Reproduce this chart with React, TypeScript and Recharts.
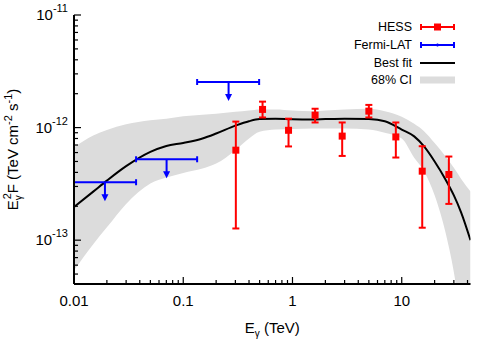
import {
  Area,
  ComposedChart,
  ErrorBar,
  Legend,
  Line,
  Scatter,
  XAxis,
  YAxis,
} from 'recharts';

const FONT = '"Liberation Sans", Arial, Helvetica, sans-serif';

// model curve + 68% band, sampled on a common energy grid (TeV)
const energy = [0.01, 0.015, 0.02, 0.03, 0.05, 0.07, 0.1, 0.15, 0.2, 0.3, 0.4, 0.5, 0.7, 1, 1.5, 2, 3, 5, 7, 10, 13, 16, 20, 25, 30, 35, 42.6];
const fitFlux = [1.97e-13, 2.7e-13, 3.38e-13, 4.54e-13, 6.08e-13, 6.87e-13, 7.3e-13, 8.0e-13, 8.85e-13, 1.04e-12, 1.14e-12, 1.19e-12, 1.2e-12, 1.185e-12, 1.18e-12, 1.19e-12, 1.2e-12, 1.19e-12, 1.14e-12, 9.6e-13, 8.35e-13, 6.8e-13, 5.0e-13, 3.5e-13, 2.5e-13, 1.76e-13, 1.0e-13];
const bandLow = [5.4e-14, 9.2e-14, 1.3e-13, 2.1e-13, 3.18e-13, 3.6e-13, 3.96e-13, 4.33e-13, 4.79e-13, 6.3e-13, 8.0e-13, 9.2e-13, 9.6e-13, 9.7e-13, 9.8e-13, 9.8e-13, 9.8e-13, 9.6e-13, 9.0e-13, 8.0e-13, 5.4e-13, 4.1e-13, 2.5e-13, 1.2e-13, 5.2e-14, 2e-14, 1e-14];
const bandHigh = [6.7e-13, 8.5e-13, 9.5e-13, 1.07e-12, 1.16e-12, 1.2e-12, 1.26e-12, 1.3e-12, 1.33e-12, 1.38e-12, 1.42e-12, 1.45e-12, 1.45e-12, 1.42e-12, 1.4e-12, 1.42e-12, 1.45e-12, 1.47e-12, 1.4e-12, 1.25e-12, 1.08e-12, 9.3e-13, 7.3e-13, 5.6e-13, 4.4e-13, 3.5e-13, 2.7e-13];

// HESS points
const hessE = [0.303, 0.532, 0.92, 1.61, 2.85, 5.0, 8.83, 15.4, 27];
const hessF = [6.3e-13, 1.45e-12, 9.46e-13, 1.29e-12, 8.4e-13, 1.4e-12, 8.26e-13, 4.1e-13, 3.83e-13];
const hessLo = [1.27e-13, 1.23e-12, 6.8e-13, 1.11e-12, 5.6e-13, 1.23e-12, 5.42e-13, 1.29e-13, 2.1e-13];
const hessHi = [1.13e-12, 1.7e-12, 1.2e-12, 1.47e-12, 1.11e-12, 1.59e-12, 1.11e-12, 6.83e-13, 5.53e-13];

// Fermi-LAT upper limits
const fermiE = [0.0192, 0.0704, 0.26];
const fermiEmin = [0.01, 0.037, 0.134];
const fermiEmax = [0.037, 0.134, 0.495];
const fermiUL = [3.27e-13, 5.23e-13, 2.54e-12];

const xTicks = [
  0.01, 0.02, 0.03, 0.04, 0.05, 0.06, 0.07, 0.08, 0.09,
  0.1, 0.2, 0.3, 0.4, 0.5, 0.6, 0.7, 0.8, 0.9,
  1, 2, 3, 4, 5, 6, 7, 8, 9,
  10, 20, 30, 40,
];
const yTicks = [
  5e-14, 6e-14, 7e-14, 8e-14, 9e-14,
  1e-13, 2e-13, 3e-13, 4e-13, 5e-13, 6e-13, 7e-13, 8e-13, 9e-13,
  1e-12, 2e-12, 3e-12, 4e-12, 5e-12, 6e-12, 7e-12, 8e-12, 9e-12,
  1e-11,
];

const curveData = energy.map((e, i) => ({ e, fit: fitFlux[i], band: [bandLow[i], bandHigh[i]] }));
const hessData = hessE.map((e, i) => ({ e, f: hessF[i], err: [hessF[i] - hessLo[i], hessHi[i] - hessF[i]] }));
const fermiData = fermiE.map((e, i) => ({ e, f: fermiUL[i], xerr: [e - fermiEmin[i], fermiEmax[i] - e] }));

const RED = '#ff0000';
const BLUE = '#0000ff';
const GREY = '#dcdcdc';

const isMajor = (v: number) => Math.abs(Math.log10(v) - Math.round(Math.log10(v))) < 1e-6;
const MAJOR = 7;
const MINOR = 4;

function BottomTick({ x, y, payload }: any) {
  const major = isMajor(payload.value);
  return (
    <g>
      <line x1={x} x2={x} y1={y} y2={y - (major ? MAJOR : MINOR)} stroke="#000" strokeWidth={1.2} />
      {major && (
        <text x={x} y={y + 22} textAnchor="middle" fontSize={15} fontFamily={FONT} fill="#000">
          {String(payload.value)}
        </text>
      )}
    </g>
  );
}

function TopTick({ x, y, payload }: any) {
  const major = isMajor(payload.value);
  return <line x1={x} x2={x} y1={y} y2={y + (major ? MAJOR : MINOR)} stroke="#000" strokeWidth={1.2} />;
}

function LeftTick({ x, y, payload }: any) {
  const major = isMajor(payload.value);
  const exp = Math.round(Math.log10(payload.value));
  return (
    <g>
      <line x1={x} x2={x + (major ? MAJOR : MINOR)} y1={y} y2={y} stroke="#000" strokeWidth={1.2} />
      {major && (
        <text x={x - 6} y={y + 5} textAnchor="end" fontSize={15} fontFamily={FONT} fill="#000">
          10
          <tspan dy={-8} fontSize={11}>{exp}</tspan>
        </text>
      )}
    </g>
  );
}

function RightTick({ x, y, payload }: any) {
  const major = isMajor(payload.value);
  return <line x1={x} x2={x - (major ? MAJOR : MINOR)} y1={y} y2={y} stroke="#000" strokeWidth={1.2} />;
}

function XTitle({ viewBox }: any) {
  const cx = viewBox ? viewBox.x + viewBox.width / 2 : 272;
  const y = viewBox ? viewBox.y + 49 : 333;
  return (
    <text x={cx} y={y} textAnchor="middle" fontSize={15} fontFamily={FONT} fill="#000">
      E
      <tspan dy={4} fontSize={10}>γ</tspan>
      <tspan dy={-4}>{'\u00a0(TeV)'}</tspan>
    </text>
  );
}

function YTitle({ viewBox }: any) {
  const cy = viewBox ? viewBox.y + viewBox.height / 2 : 150;
  const cx = 18;
  return (
    <text
      x={cx}
      y={cy}
      transform={`rotate(-90, ${cx}, ${cy})`}
      textAnchor="middle"
      fontSize={15}
      fontFamily={FONT}
      fill="#000"
    >
      E
      <tspan dy={4} fontSize={10}>γ</tspan>
      <tspan dx={-4} dy={-11} fontSize={11}>2</tspan>
      <tspan dy={7}>{'F (TeV cm'}</tspan>
      <tspan dy={-6} fontSize={11}>-2</tspan>
      <tspan dy={6}>{'\u00a0s'}</tspan>
      <tspan dy={-6} fontSize={11}>-1</tspan>
      <tspan dy={6}>)</tspan>
    </text>
  );
}

function UpperLimit({ cx, cy }: any) {
  if (cx == null || cy == null) return null;
  return (
    <g>
      <line x1={cx} x2={cx} y1={cy} y2={cy + 13} stroke={BLUE} strokeWidth={2} />
      <polygon points={`${cx - 3.5},${cy + 12} ${cx + 3.5},${cy + 12} ${cx},${cy + 19}`} fill={BLUE} />
    </g>
  );
}

function HessPoint({ cx, cy }: any) {
  if (cx == null || cy == null) return null;
  return <rect x={cx - 3.5} y={cy - 3.5} width={7} height={7} fill={RED} />;
}

const legendRows = ['HESS', 'Fermi-LAT', 'Best fit', '68% CI'];

function LegendSymbol({ name }: { name: string }) {
  if (name === 'HESS' || name === 'Fermi-LAT') {
    const c = name === 'HESS' ? RED : BLUE;
    return (
      <svg width={35} height={12}>
        <line x1={1} x2={34} y1={6} y2={6} stroke={c} strokeWidth={2} />
        <line x1={1} x2={1} y1={3} y2={9} stroke={c} strokeWidth={2} />
        <line x1={34} x2={34} y1={3} y2={9} stroke={c} strokeWidth={2} />
        {name === 'HESS' ? (
          <rect x={14} y={2.5} width={7} height={7} fill={c} />
        ) : (
          <line x1={17.5} x2={17.5} y1={4.5} y2={7.5} stroke={c} strokeWidth={1.5} />
        )}
      </svg>
    );
  }
  if (name === 'Best fit') {
    return (
      <svg width={35} height={12}>
        <line x1={0} x2={35} y1={6} y2={6} stroke="#000" strokeWidth={2} />
      </svg>
    );
  }
  return (
    <svg width={35} height={12}>
      <rect x={0} y={2.5} width={35} height={7} fill={GREY} />
    </svg>
  );
}

function LegendBox() {
  return (
    <div style={{ width: 155, fontFamily: FONT, fontSize: 12.5, color: '#000' }}>
      {legendRows.map((name) => (
        <div
          key={name}
          style={{ height: 17.7, display: 'flex', justifyContent: 'flex-end', alignItems: 'center' }}
        >
          <span style={{ marginRight: 8, lineHeight: '14px' }}>{name}</span>
          <LegendSymbol name={name} />
        </div>
      ))}
    </div>
  );
}

export default function App() {
  return (
    <div style={{ position: 'absolute', left: 0, top: 0, background: '#fff' }}>
      <ComposedChart
        width={498}
        height={349}
        data={curveData}
        margin={{ top: 15, right: 27.5, bottom: 0, left: 0 }}
      >
        <XAxis
          dataKey="e"
          type="number"
          scale="log"
          domain={[0.01, 42.6]}
          allowDataOverflow
          ticks={xTicks}
          interval={0}
          tickSize={0}
          tickMargin={0}
          tick={(p: any) => <BottomTick {...p} />}
          height={65}
          axisLine={{ stroke: '#000', strokeWidth: 2 }}
          label={<XTitle />}
        />
        <XAxis
          xAxisId="top"
          orientation="top"
          dataKey="e"
          type="number"
          scale="log"
          domain={[0.01, 42.6]}
          allowDataOverflow
          ticks={xTicks}
          interval={0}
          tickSize={0}
          tickMargin={0}
          tick={(p: any) => <TopTick {...p} />}
          height={0}
          axisLine={{ stroke: '#000', strokeWidth: 2 }}
        />
        <YAxis
          type="number"
          scale="log"
          domain={[4.08e-14, 1e-11]}
          allowDataOverflow
          ticks={yTicks}
          interval={0}
          tickSize={0}
          tickMargin={0}
          tick={(p: any) => <LeftTick {...p} />}
          width={74}
          axisLine={{ stroke: '#000', strokeWidth: 2 }}
          label={<YTitle />}
        />
        <YAxis
          yAxisId="right"
          orientation="right"
          type="number"
          scale="log"
          domain={[4.08e-14, 1e-11]}
          allowDataOverflow
          ticks={yTicks}
          interval={0}
          tickSize={0}
          tickMargin={0}
          tick={(p: any) => <RightTick {...p} />}
          width={0}
          axisLine={{ stroke: '#000', strokeWidth: 2 }}
        />
        <Area
          dataKey="band"
          type="monotone"
          stroke="none"
          fill={GREY}
          fillOpacity={1}
          isAnimationActive={false}
          legendType="none"
        />
        <Line
          dataKey="fit"
          type="monotone"
          stroke="#000"
          strokeWidth={2}
          dot={false}
          isAnimationActive={false}
          legendType="none"
        />
        <Scatter data={hessData} dataKey="f" shape={<HessPoint />} isAnimationActive={false} legendType="none">
          <ErrorBar dataKey="err" direction="y" width={3.5} stroke={RED} strokeWidth={2} />
        </Scatter>
        <Scatter data={fermiData} dataKey="f" shape={<UpperLimit />} isAnimationActive={false} legendType="none">
          <ErrorBar dataKey="xerr" direction="x" width={3} stroke={BLUE} strokeWidth={2} />
        </Scatter>
        <Legend
          layout="horizontal"
          align="center"
          verticalAlign="middle"
          content={() => <LegendBox />}
          wrapperStyle={{ top: 18.5, left: 300, width: 155 }}
        />
      </ComposedChart>
    </div>
  );
}
